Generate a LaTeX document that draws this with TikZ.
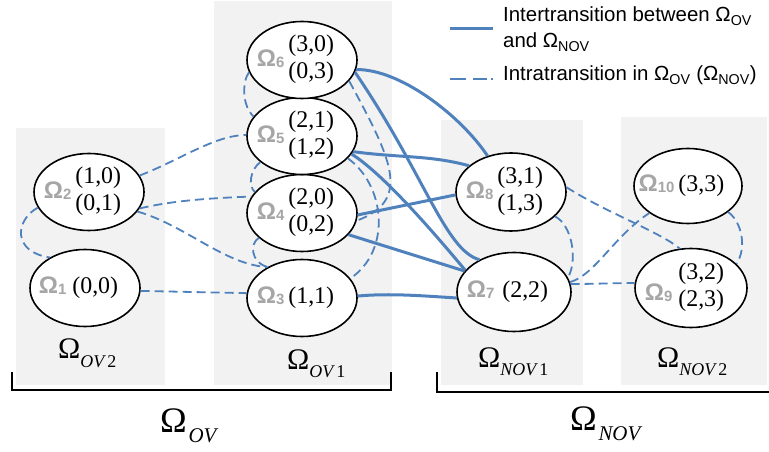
\documentclass[tikz,border=0pt]{standalone}
\usepackage{fontspec}
\setmainfont{Liberation Serif}
\setsansfont{Liberation Sans}
\usetikzlibrary{shapes.geometric}
\definecolor{cblue}{RGB}{79,129,189}
\definecolor{boxgray}{RGB}{242,242,242}
\definecolor{omgray}{RGB}{166,166,166}
\newcommand\omlbl[1]{{\color{omgray}\sffamily\bfseries\fontsize{24}{24}\selectfont Ω\raisebox{-1bp}{\fontsize{15}{15}\selectfont #1}}}
\newcommand\twoln[2]{\begin{tabular}{@{}c@{}}#1\\#2\end{tabular}}
\newcommand\ctr[1]{\makebox[0pt]{#1\hspace{13bp}}}
\newcommand\bigsub[3]{{\fontsize{#1}{#1}\selectfont Ω}\raisebox{#2}{\fontsize{18}{18}\selectfont #3}}
\begin{document}
\begin{tikzpicture}[x=1bp,y=-1bp,
  st/.style={ellipse, draw, line width=1.6bp, fill=white, minimum width=110bp, minimum height=77bp, inner sep=0pt, font=\fontsize{24}{27}\selectfont},
  inter/.style={cblue, line width=3bp},
  intra/.style={cblue, line width=1.8bp, dash pattern=on 9bp off 5bp},
  grayzone/.style={fill=boxgray},
  brk/.style={line width=1.7bp, black},
  legtxt/.style={anchor=base west, inner sep=0pt, font=\sffamily\fontsize{20.5}{24}\selectfont},
  boxlbl/.style={anchor=base west, inner sep=0pt},
  ]
\useasboundingbox (0,0) rectangle (769,452);
% gray zones
\fill[grayzone] (16,128) rectangle (165,385);
\fill[grayzone] (214,1) rectangle (392,385);
\fill[grayzone] (441,120) rectangle (583,385);
\fill[grayzone] (621,117) rectangle (767,385);

% states
\node[st] (n1) at (85,288) {\ctr{\omlbl{1}\hspace{6bp}(0,0)}};
\node[st] (n2) at (89,192) {\ctr{\omlbl{2}\hspace{4bp}\twoln{(1,0)}{(0,1)}}};
\node[st] (n3) at (302,298) {\ctr{\omlbl{3}\hspace{4bp}(1,1)}};
\node[st] (n4) at (302,213) {\ctr{\omlbl{4}\hspace{4bp}\twoln{(2,0)}{(0,2)}}};
\node[st] (n5) at (302,136) {\ctr{\omlbl{5}\hspace{4bp}\twoln{(2,1)}{(1,2)}}};
\node[st] (n6) at (302,60) {\ctr{\omlbl{6}\hspace{4bp}\twoln{(3,0)}{(0,3)}}};
\node[st, minimum width=114bp, minimum height=79bp] (n7) at (514,292) {\ctr{\omlbl{7}\hspace{8bp}(2,2)}};
\node[st, minimum height=78bp] (n8) at (511,192) {\ctr{\omlbl{8}\hspace{4bp}\twoln{(3,1)}{(1,3)}}};
\node[st, minimum width=112bp, minimum height=79bp] (n9) at (691,288) {\ctr{\raisebox{-6bp}{\omlbl{9}}\hspace{6bp}\twoln{(3,2)}{(2,3)}}};
\node[st, minimum width=108bp, minimum height=75bp] (n10) at (688,186) {\ctr{\omlbl{10}\hspace{4bp}(3,3)}};

% inter-transitions (solid)
\draw[inter] (n6.-10) .. controls (400,69) and (460,115) .. (n8.123);
\draw[inter] (n6.-13) .. controls (425,175) and (445,250) .. (n7.137);
\draw[inter] (n5.-17) .. controls (400,158) and (430,155) .. (n8.148);
\draw[inter] (n5.-20) .. controls (385,175) and (440,240) .. (n7.156);
\draw[inter] (n4.-2) -- (n8.183);
\draw[inter] (n4.-25) -- (n7.157);
\draw[inter] (n3.2) .. controls (390,293) and (425,296) .. (n7.186);

% intra-transitions (dashed)
\draw[intra] (n2.18) .. controls (180,160) and (215,135) .. (n5.179);
\draw[intra] (n2.-18) .. controls (175,200) and (215,198) .. (n4.162);
\draw[intra] (n2.-22) .. controls (185,225) and (225,265) .. (n3.138);
\draw[intra] (n2.197) .. controls (15,220) and (12,252) .. (n1.139);
\draw[intra] (n1.-3) -- (n3.175);
\draw[intra] (n6.193) .. controls (242,82) and (242,106) .. (n5.158);
\draw[intra] (n5.212) .. controls (250,170) and (248,186) .. (n4.156);
\draw[intra] (n4.210) .. controls (250,243) and (250,262) .. (n3.138);
\draw[intra] (n6.-24) .. controls (392,160) and (412,200) .. (n4.-8);
\draw[intra] (n5.-26) .. controls (385,185) and (392,250) .. (n3.22);
\draw[intra] (n8.-29) .. controls (572,225) and (578,260) .. (n7.15);
\draw[intra] (n10.-33) .. controls (742,222) and (747,248) .. (n9.28);
\draw[intra] (n8.5) .. controls (605,212) and (660,232) .. (n9.106);
\draw[intra] (n7.10) .. controls (595,275) and (615,235) .. (n10.215);
\draw[intra] (n7.8) .. controls (595,284) and (615,283) .. (n9.175);

% legend
\coordinate (la1) at (450,29); \coordinate (lb1) at (493,29);
\coordinate (la2) at (450,79); \coordinate (lb2) at (493,79);
\draw[inter] (la1) -- (lb1);
\draw[cblue, line width=1.8bp, dash pattern=on 16bp off 7bp on 14bp off 4bp on 2bp off 50bp] (la2) -- (lb2);
\node[legtxt] (lt1) at (503,22) {Intertransition between Ω\textsubscript{OV}};
\node[legtxt] (lt2) at (503,48) {and Ω\textsubscript{NOV}};
\node[legtxt] (lt3) at (503,81) {Intratransition in Ω\textsubscript{OV} (Ω\textsubscript{NOV})};

% zone labels
\node[boxlbl] (zov2) at (58,359) {\bigsub{30}{-9bp}{\itshape OV\,\upshape 2}};
\node[boxlbl] (zov1) at (287,370) {\bigsub{30}{-8bp}{\itshape OV\,\upshape 1}};
\node[boxlbl] (znov1) at (478,368) {\bigsub{30}{-8bp}{\itshape NOV\,\upshape 1}};
\node[boxlbl] (znov2) at (657,368) {\bigsub{30}{-8bp}{\itshape NOV\,\upshape 2}};

% brackets
\coordinate (oa) at (12,372); \coordinate (ob) at (12,390);
\coordinate (oc) at (391,390); \coordinate (od) at (391,372);
\draw[brk] (oa) -- (ob) -- (oc) -- (od);
\coordinate (na) at (437,372); \coordinate (nb) at (437,392);
\coordinate (nc) at (770,392);
\draw[brk] (na) -- (nb) -- (nc);

% big labels
\node[boxlbl] (gov) at (160,432) {{\fontsize{36}{36}\selectfont Ω}\,\raisebox{-10bp}{\fontsize{21}{21}\selectfont\itshape OV}};
\node[boxlbl] (gnov) at (570,430) {{\fontsize{36}{36}\selectfont Ω}\,\raisebox{-10bp}{\fontsize{21}{21}\selectfont\itshape NOV}};
\end{tikzpicture}
\end{document}
